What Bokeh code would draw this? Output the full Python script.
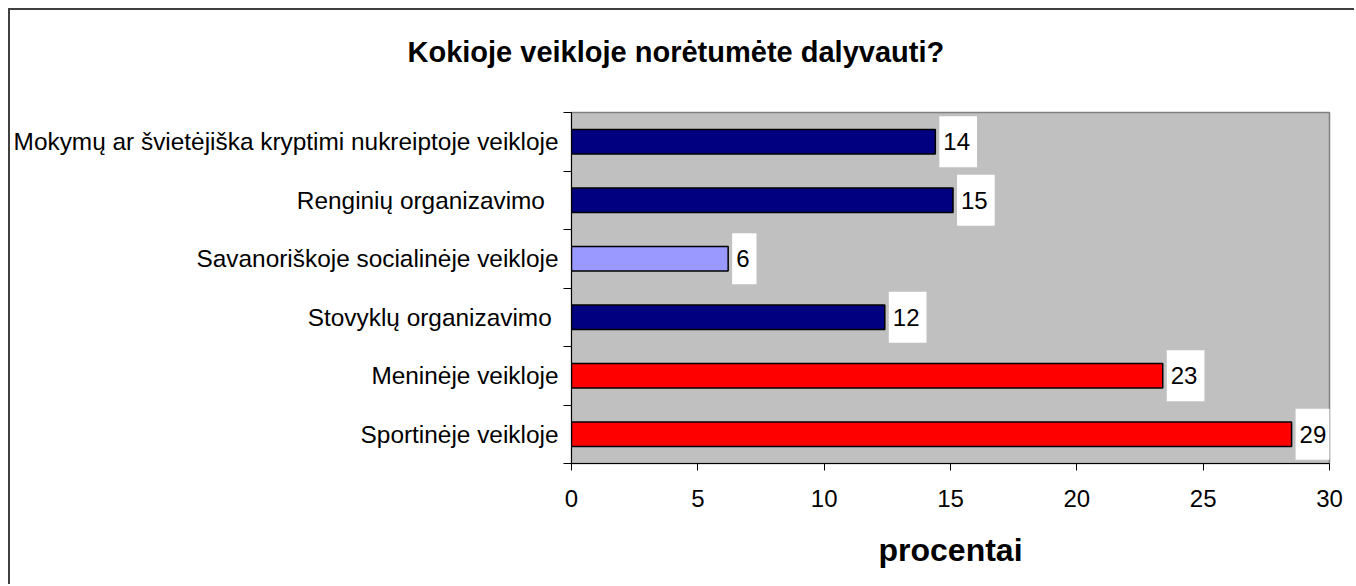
from bokeh.plotting import figure
from bokeh.models import ColumnDataSource, Range1d, FixedTicker
from bokeh.embed import file_html
from bokeh.resources import INLINE

# ---- data (top to bottom as shown) ----
categories = [
    "Mokymų ar švietėjiška kryptimi nukreiptoje veikloje",
    "Renginių organizavimo  ",
    "Savanoriškoje socialinėje veikloje",
    "Stovyklų organizavimo ",
    "Meninėje veikloje",
    "Sportinėje veikloje",
]
values = [14.4, 15.1, 6.2, 12.4, 23.4, 28.5]
value_labels = ["14", "15", "6", "12", "23", "29"]
bar_colors = ["#000080", "#000080", "#9999FF", "#000080", "#FF0000", "#FF0000"]
x_ticks = [0, 5, 10, 15, 20, 25, 30]

n = len(categories)
ypos = [n - 1 - i for i in range(n)]

src = ColumnDataSource(dict(y=ypos, v=values, lab=value_labels, c=bar_colors))

FONT = "Liberation Sans"

p = figure(width=1346, height=576, output_backend="svg", toolbar_location=None,
           x_range=Range1d(0, 30), y_range=Range1d(-0.5, n - 0.5),
           min_border_left=561, min_border_right=27, min_border_top=102, min_border_bottom=123)
p.styles = {"border-left": "2px solid #404040", "border-top": "2px solid #404040",
            "margin-left": "8px", "margin-top": "8px"}

p.background_fill_color = "#C0C0C0"
p.border_fill_color = "white"
p.outline_line_color = "#808080"
p.outline_line_width = 1.5
p.xgrid.visible = False
p.ygrid.visible = False

p.hbar(y="y", right="v", left=0, height=0.42, source=src,
       fill_color="c", line_color="black", line_width=1.5)

p.text(x="v", y="y", text="lab", source=src, x_offset=4,
       text_align="left", text_baseline="middle",
       text_font_size="24px", text_color="black", text_font={"value": FONT},
       background_fill_color="white",
       padding=dict(left=4, right=7, top=17, bottom=17))

# title
p.title.text = "Kokioje veikloje norėtumėte dalyvauti?"
p.title.text_font = FONT
p.title.text_font_size = "29px"
p.title.text_font_style = "bold"
p.title.text_color = "black"
p.title.align = "left"
p.title.offset = -164
p.title.padding = dict(left=0, right=0, top=0, bottom=40)

# x axis
xa = p.xaxis[0]
xa.ticker = FixedTicker(ticks=x_ticks)
xa.axis_label = "procentai"
xa.axis_label_text_font = FONT
xa.axis_label_text_font_size = "32px"
xa.axis_label_text_font_style = "bold"
xa.axis_label_text_color = "black"
xa.axis_label_standoff = 22
xa.major_label_text_font = FONT
xa.major_label_text_font_size = "24px"
xa.major_label_text_color = "black"
xa.major_label_standoff = 19
xa.major_tick_out = 7
xa.major_tick_in = 0
xa.major_tick_line_color = "black"
xa.minor_tick_line_color = None
xa.axis_line_color = "black"

# y axis
ya = p.yaxis[0]
ya.ticker = FixedTicker(ticks=ypos, minor_ticks=[k - 0.5 for k in range(n + 1)])
ya.major_label_overrides = {y: c for y, c in zip(ypos, categories)}
ya.major_label_text_font = FONT
ya.major_label_text_font_size = "24.4px"
ya.major_label_text_color = "black"
ya.major_label_standoff = 5
ya.major_tick_out = 0
ya.major_tick_in = 0
ya.major_tick_line_color = None
ya.minor_tick_out = 8
ya.minor_tick_in = 0
ya.minor_tick_line_color = "black"
ya.axis_line_color = "black"

open("out.html", "w").write(file_html(p, INLINE))
